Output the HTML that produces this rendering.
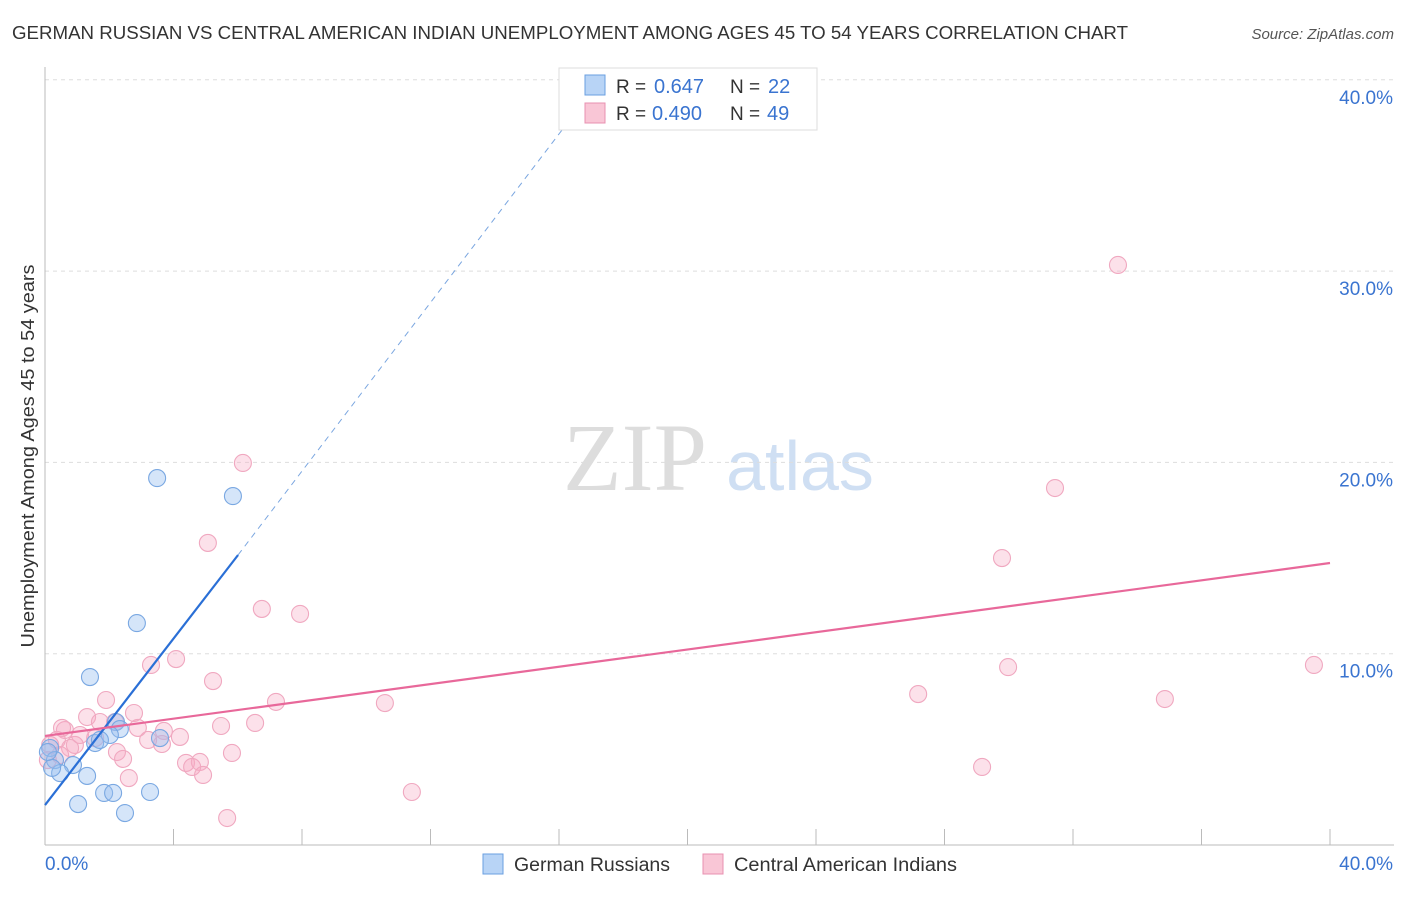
<!DOCTYPE html>
<html><head><meta charset="utf-8"><style>
body{margin:0;background:#fff;font-family:"Liberation Sans",sans-serif}
</style></head><body>
<svg id="chart" width="1406" height="892" xmlns="http://www.w3.org/2000/svg" font-family="Liberation Sans, sans-serif">
<text x="12" y="39" font-size="18" fill="#333" textLength="1116" lengthAdjust="spacingAndGlyphs">GERMAN RUSSIAN VS CENTRAL AMERICAN INDIAN UNEMPLOYMENT AMONG AGES 45 TO 54 YEARS CORRELATION CHART</text>
<text x="1394" y="39" font-size="15" fill="#555" text-anchor="end" font-style="italic">Source: ZipAtlas.com</text>
<text transform="translate(34,456) rotate(-90)" font-size="18" fill="#333" text-anchor="middle" textLength="383" lengthAdjust="spacingAndGlyphs">Unemployment Among Ages 45 to 54 years</text>
<g><text x="635" y="490" font-size="96" fill="#ddd" text-anchor="middle" font-family="Liberation Serif, serif">ZIP</text><text x="800" y="490" font-size="70" fill="#cfdff3" text-anchor="middle">atlas</text></g>
<g id="grid"></g><g id="axes"></g><g id="pts"></g><g id="lines"></g>
<g>
<rect x="559" y="68" width="258" height="62" fill="#fff" stroke="#ddd"/>
<rect x="585" y="75" width="20" height="20" fill="#b8d4f6" stroke="#6a9fe0"/>
<rect x="585" y="103" width="20" height="20" fill="#f9c6d6" stroke="#e890b0"/>
<text x="616" y="93" font-size="19" fill="#333">R =</text><text x="654" y="93" font-size="20" fill="#3a74d0">0.647</text>
<text x="730" y="93" font-size="19" fill="#333">N =</text><text x="768" y="93" font-size="20" fill="#3a74d0">22</text>
<text x="616" y="120" font-size="19" fill="#333">R =</text><text x="652" y="120" font-size="20" fill="#3a74d0">0.490</text>
<text x="730" y="120" font-size="19" fill="#333">N =</text><text x="767" y="120" font-size="20" fill="#3a74d0">49</text>
</g>
<g>
<rect x="483" y="854" width="20" height="20" fill="#b8d4f6" stroke="#6a9fe0"/>
<text x="514" y="871" font-size="19" fill="#333" textLength="156" lengthAdjust="spacingAndGlyphs">German Russians</text>
<rect x="703" y="854" width="20" height="20" fill="#f9c6d6" stroke="#e890b0"/>
<text x="734" y="871" font-size="19" fill="#333" textLength="223" lengthAdjust="spacingAndGlyphs">Central American Indians</text>
</g>
</svg>
<script>
const blueX=[3.49,5.85,2.86,1.40,2.21,2.33,1.56,3.58,2.02,0.16,0.31,0.87,0.47,1.31,0.22,1.84,2.12,3.27,1.03,2.49,0.09,1.71];
const blueY=[19.18,18.24,11.60,8.78,6.43,6.06,5.33,5.59,5.75,5.07,4.44,4.18,3.76,3.61,4.03,2.72,2.72,2.77,2.14,1.67,4.86,5.49];
const pinkX=[33.40,6.16,31.44,5.07,29.79,6.75,7.94,4.08,3.30,29.98,39.50,5.23,27.18,34.86,1.90,7.19,10.58,2.77,1.31,6.54,5.48,0.62,2.89,3.70,1.71,4.20,3.21,0.37,3.64,0.93,2.24,5.82,2.43,4.39,4.82,4.58,29.17,4.92,2.61,11.42,5.67,0.16,0.78,1.09,1.56,0.47,2.18,0.09,0.53];
const pinkY=[30.32,19.97,18.66,15.79,15.00,12.34,12.08,9.72,9.41,9.30,9.41,8.57,7.89,7.63,7.58,7.48,7.42,6.90,6.69,6.38,6.22,6.01,6.12,5.96,6.43,5.65,5.49,5.49,5.28,5.23,4.86,4.81,4.50,4.29,4.34,4.08,4.08,3.66,3.50,2.77,1.41,5.23,5.07,5.75,5.59,4.70,6.43,4.44,6.12];
const yTicks=[10,20,30,40];
const xTicks=[0,4,8,12,16,20,24,28,32,36,40];
const blueFit=[0,2.09,6.01,15.16,16.65,38.6];
const pinkFit=[0,5.70,40,14.74];
const NS='http://www.w3.org/2000/svg';
const sx=v=>45+v/40*1285, sy=v=>845-v/10*191.3;
function mk(t,a,p){const e=document.createElementNS(NS,t);for(const k in a)e.setAttribute(k,a[k]);document.getElementById(p).appendChild(e);return e;}
yTicks.forEach(t=>{
 const g=mk('line',{x1:45,x2:1394,y1:sy(t),y2:sy(t),stroke:'#ddd','stroke-dasharray':'4,4'},'grid');
 
 
 const l=mk('text',{x:1393,y:sy(t)+24,'font-size':19,fill:'#3a74d0','text-anchor':'end'},'grid');
 l.textContent=t.toFixed(1)+'%';
 
 
});
const ax=mk('line',{x1:45,x2:45,y1:67,y2:845,stroke:'#bbb'},'axes');


const bx=mk('line',{x1:45,x2:1394,y1:845,y2:845,stroke:'#bbb'},'axes');


xTicks.forEach(t=>{const k=mk('line',{x1:sx(t),x2:sx(t),y1:829,y2:845,stroke:'#bbb'},'axes');
 
 });
[[0,'start',45],[40,'end',1393]].forEach(([v,a,x])=>{const t=mk('text',{x:x,y:870,'font-size':19,fill:'#3a74d0','text-anchor':a},'axes');t.textContent=v.toFixed(1)+'%';
 
 });
pinkX.forEach((x,i)=>{const c=mk('circle',{cx:sx(x),cy:sy(pinkY[i]),r:8.5,fill:'rgba(246,170,196,0.35)',stroke:'#f0a8c0','stroke-width':1.1},'pts');
 
 });
blueX.forEach((x,i)=>{const c=mk('circle',{cx:sx(x),cy:sy(blueY[i]),r:8.5,fill:'rgba(150,190,240,0.4)',stroke:'#7aa8e2','stroke-width':1.1},'pts');
 
 });
const b1=mk('line',{x1:sx(blueFit[0]),y1:sy(blueFit[1]),x2:sx(blueFit[2]),y2:sy(blueFit[3]),stroke:'#2a6fd6','stroke-width':2.2},'lines');


const b2=mk('line',{x1:sx(blueFit[2]),y1:sy(blueFit[3]),x2:sx(blueFit[4]),y2:sy(blueFit[5]),stroke:'#7aa6e0','stroke-width':1,'stroke-dasharray':'6,5'},'lines');


const p1=mk('line',{x1:sx(pinkFit[0]),y1:sy(pinkFit[1]),x2:sx(pinkFit[2]),y2:sy(pinkFit[3]),stroke:'#e8689a','stroke-width':2.2},'lines');


</script>
</body></html>
